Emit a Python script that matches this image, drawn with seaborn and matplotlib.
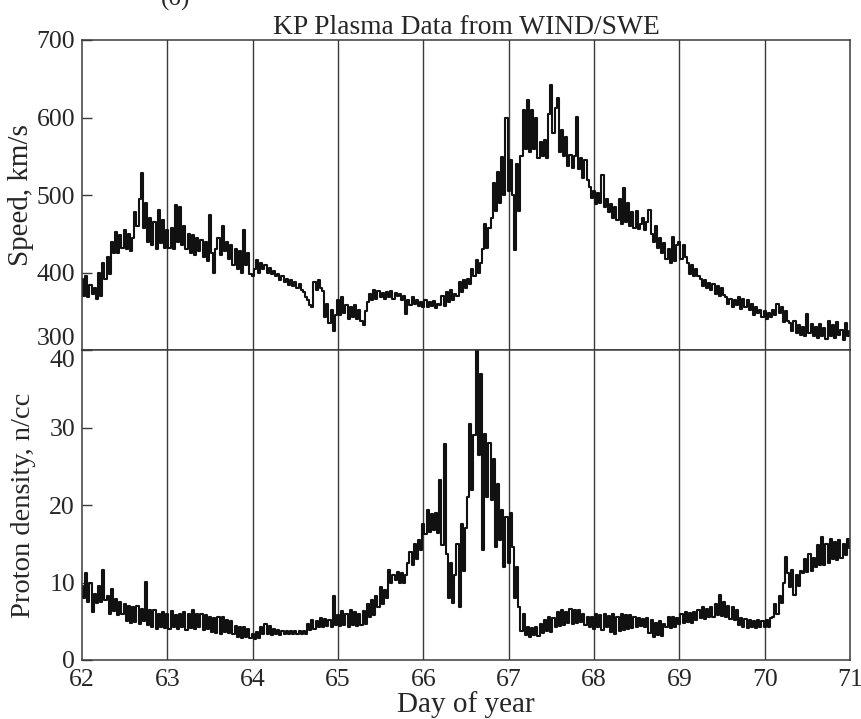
import numpy as np
import pandas as pd
import matplotlib
matplotlib.use("Agg")
import matplotlib.pyplot as plt
import seaborn as sns

# ---------------- data ----------------
day_start = 62.0
day_step = 0.025
day_ticks = [62, 63, 64, 65, 66, 67, 68, 69, 70, 71]
day_lines = [63, 64, 65, 66, 67, 68, 69, 70]
speed_ticks = [300, 400, 500, 600, 700]
density_ticks = [0, 10, 20, 30, 40]

speed = [
    392, 370, 396, 368, 384, 372, 380, 366,
    400, 370, 412, 392, 420, 398, 440, 425,
    452, 425, 448, 432, 455, 430, 450, 428,
    445, 478, 460, 495, 528, 458, 490, 440,
    470, 435, 465, 430, 481, 438, 468, 432,
    455, 432, 458, 430, 487, 440, 485, 436,
    460, 430, 450, 425, 448, 422, 445, 428,
    442, 420, 440, 415, 474, 425, 400, 430,
    445, 422, 460, 428, 440, 418, 435, 410,
    430, 405, 428, 400, 455, 410, 425, 398,
    395, 405, 416, 400, 412, 404, 410, 400,
    406, 398, 402, 395, 398, 390, 395, 388,
    392, 384, 390, 382, 388, 380, 385, 378,
    375, 368, 365, 358, 356, 388, 378, 390,
    380, 376, 343, 360, 335, 352, 325, 345,
    365, 345, 369, 348, 358, 340, 355, 342,
    358, 340, 352, 338, 332, 350, 362, 372,
    364, 377, 366, 376, 368, 374, 366, 375,
    368, 376, 366, 374, 370, 372, 365, 370,
    347, 365, 358, 368, 360, 364, 357, 362,
    356, 365, 355, 362, 357, 363, 354, 360,
    358, 370, 357, 375, 362, 377, 365, 372,
    370, 388, 375, 390, 380, 392, 385, 405,
    395, 416, 400, 412, 430, 462, 432, 458,
    470, 515, 480, 530, 490, 549, 500, 599,
    505, 545, 500, 429, 540, 480, 550, 610,
    560, 623, 555, 610, 560, 600, 548, 568,
    550, 571, 548, 605, 642, 580, 612, 625,
    555, 584, 550, 575, 538, 552, 535, 550,
    601, 534, 548, 522, 545, 520, 510, 496,
    505, 488, 502, 490, 526, 485, 495, 478,
    488, 470, 485, 468, 495, 462, 509, 465,
    490, 460, 478, 458, 480, 456, 462, 470,
    455, 465, 481, 450, 440, 460, 432, 445,
    425, 438, 418, 430, 412, 446, 415, 435,
    440, 418, 435, 420, 412, 398, 410, 396,
    405, 395, 392, 382, 390, 380, 386, 378,
    385, 372, 383, 370, 380, 371, 368, 360,
    366, 356, 364, 358, 368, 353, 366, 355,
    364, 352, 360, 345, 356, 348, 352, 343,
    350, 340, 348, 342, 352, 345, 360, 348,
    355, 336, 350, 338, 335, 325, 338, 322,
    332, 320, 330, 318, 347, 322, 333, 318,
    330, 316, 334, 318, 328, 314, 338, 318,
    332, 315, 336, 320, 326, 313, 335, 318,
    325,
]

density = [
    9.5, 8.0, 11.2, 7.5, 10.0, 6.2, 8.5, 7.4,
    9.6, 7.5, 11.6, 7.8, 8.2, 6.0, 9.2, 6.3,
    7.9, 5.8, 7.5, 6.0, 7.2, 5.0, 7.0, 4.8,
    6.8, 4.9, 7.0, 4.6, 6.6, 5.0, 10.1, 4.5,
    6.5, 4.2, 6.4, 4.0, 5.9, 4.3, 6.2, 4.1,
    6.0, 4.0, 6.3, 4.2, 5.8, 4.0, 6.0, 4.3,
    6.2, 3.9, 6.0, 4.1, 6.4, 4.0, 5.9, 4.2,
    6.0, 3.9, 5.8, 4.0, 5.6, 3.6, 5.4, 3.5,
    5.5, 3.4, 5.6, 3.6, 5.2, 3.5, 5.0, 3.3,
    4.4, 3.0, 4.2, 2.9, 4.3, 3.0, 4.0, 2.8,
    3.4, 2.7, 3.6, 2.8, 4.2, 3.3, 4.6, 3.4,
    4.4, 3.2, 4.0, 3.3, 3.9, 3.2, 3.8, 3.3,
    3.8, 3.3, 3.7, 3.3, 3.8, 3.4, 3.7, 3.3,
    3.8, 3.4, 4.6, 3.9, 5.2, 4.0, 5.0, 4.3,
    5.4, 4.3, 5.3, 4.4, 5.2, 4.3, 8.2, 4.5,
    5.8, 4.4, 6.3, 4.5, 6.0, 4.3, 6.4, 4.5,
    6.2, 4.4, 6.0, 4.5, 6.3, 4.6, 7.2, 5.6,
    7.7, 5.8, 8.3, 6.9, 9.4, 7.2, 9.0, 8.0,
    11.6, 9.9, 11.0, 10.3, 11.4, 9.9, 11.2, 10.0,
    11.0, 12.5, 14.0, 12.2, 15.0, 13.0, 15.5, 14.2,
    17.6, 16.3, 19.3, 16.5, 18.8, 16.8, 19.0, 16.4,
    23.2, 14.8, 27.9, 13.7, 8.0, 12.5, 7.3, 11.0,
    15.0, 6.9, 17.6, 11.5, 17.0, 21.0, 30.5, 22.0,
    29.0, 40.0, 26.5, 36.9, 14.2, 29.2, 21.0, 28.0,
    20.6, 26.0, 14.6, 22.7, 15.5, 19.3, 12.0, 18.5,
    12.5, 19.0, 14.6, 8.0, 12.0, 6.9, 3.8, 6.0,
    3.2, 4.3, 3.0, 4.1, 3.2, 4.3, 3.1, 4.6,
    3.5, 5.2, 3.8, 5.6, 3.6, 5.4, 4.3, 6.2,
    4.4, 6.4, 4.5, 6.2, 4.8, 6.6, 4.7, 6.5,
    4.8, 6.5, 4.9, 6.0, 4.5, 5.6, 4.3, 5.5,
    4.0, 6.0, 4.2, 5.8, 3.9, 6.0, 4.3, 5.7,
    3.6, 6.0, 3.4, 5.6, 3.8, 5.9, 3.9, 5.8,
    4.0, 5.8, 4.1, 5.5, 4.3, 5.4, 4.4, 5.3,
    4.3, 5.4, 3.5, 5.2, 3.0, 4.8, 3.2, 5.0,
    3.1, 4.6, 4.2, 5.6, 4.1, 5.5, 4.3, 5.4,
    4.7, 6.0, 4.8, 6.2, 4.9, 6.1, 4.8, 6.2,
    5.2, 6.5, 5.4, 6.9, 5.3, 6.6, 5.5, 6.8,
    5.6, 7.2, 5.8, 8.4, 5.7, 7.5, 5.5, 7.0,
    5.3, 6.9, 5.2, 6.5, 4.5, 5.4, 4.2, 5.3,
    4.1, 5.2, 4.2, 5.0, 4.1, 5.2, 4.3, 5.0,
    4.2, 5.1, 4.3, 5.4, 5.6, 7.2, 6.0, 8.2,
    7.3, 10.0, 13.3, 11.2, 9.4, 11.6, 8.4, 11.0,
    9.6, 11.5, 11.2, 13.0, 11.4, 13.7, 11.5, 13.2,
    12.0, 14.8, 12.3, 15.9, 12.2, 15.0, 12.5, 15.6,
    13.0, 15.2, 12.9, 15.5, 13.2, 15.0, 13.5, 15.6,
    14.5,
]

title = "KP Plasma Data from WIND/SWE"
panel_label = "(б)"

# ---------------- build frame ----------------
days = day_start + day_step * np.arange(len(speed))
df = pd.DataFrame({"day": days, "speed": speed, "density": density})

sns.set_style("white")
plt.rcParams["font.family"] = ["Liberation Serif", "DejaVu Serif"]

fig = plt.figure(figsize=(8.62, 7.19), dpi=100)
ax1 = fig.add_axes([82 / 862, 1 - 350 / 719, 768 / 862, 310 / 719])
ax2 = fig.add_axes([82 / 862, 1 - 660 / 719, 768 / 862, 310 / 719])

line_col = "#111111"
grid_col = "#3a3a3a"

sns.lineplot(data=df, x="day", y="speed", ax=ax1, color=line_col,
             linewidth=1.5, estimator=None, sort=False, drawstyle="steps-mid")
sns.lineplot(data=df, x="day", y="density", ax=ax2, color=line_col,
             linewidth=1.5, estimator=None, sort=False, drawstyle="steps-mid")

for ax in (ax1, ax2):
    for d in day_lines:
        ax.axvline(d, color=grid_col, lw=1.0, zorder=1)
    ax.set_xlim(day_ticks[0], day_ticks[-1])
    for s in ax.spines.values():
        s.set_color(grid_col)
        s.set_linewidth(1.1)
    ax.tick_params(axis="y", direction="in", length=7, width=1.0,
                   color=grid_col, labelsize=18.5, pad=5, left=True, right=False)
    ax.set_xlabel("")

ax1.set_ylim(speed_ticks[0], speed_ticks[-1])
ax1.set_yticks(speed_ticks)
ax1.set_xticks(day_ticks)
ax1.tick_params(axis="x", bottom=False, labelbottom=False)
ax1.set_ylabel("Speed, km/s", fontsize=21)

ax2.set_ylim(density_ticks[0], density_ticks[-1])
ax2.set_yticks(density_ticks)
ax2.set_xticks(day_ticks)
ax2.tick_params(axis="x", bottom=False, labelsize=18.5, pad=3)
ax2.set_ylabel("Proton density, n/cc", fontsize=20.5)
ax2.set_xlabel("Day of year", fontsize=21, labelpad=0)

ax1.yaxis.set_label_coords((34 - 82) / 768, 0.5)
ax2.yaxis.set_label_coords((36 - 82) / 768, 0.5)

# the two labels at the shared edge sit on either side of it
ax1.get_yticklabels()[0].set_va("bottom")
ax2.get_yticklabels()[-1].set_va("top")

ax1.set_title(title, fontsize=19.8, pad=2)
fig.text(176 / 862, 1.0 + 2 / 719, panel_label, fontsize=18,
         ha="center", va="center")

fig.savefig("out.png", dpi=100)
